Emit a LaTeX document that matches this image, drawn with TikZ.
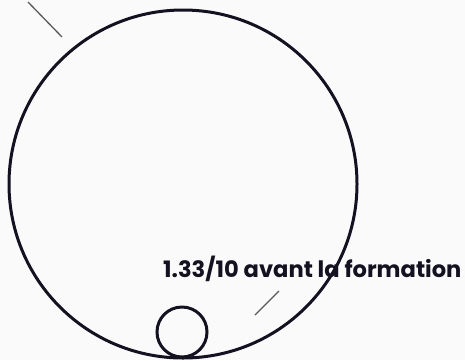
\documentclass[tikz,border=0pt]{standalone}
\usepackage{fontspec}
\setmainfont{Poppins}
\usepackage{tikz}
\usetikzlibrary{positioning}
\definecolor{inkblue}{RGB}{20,17,32}
\definecolor{tickgray}{RGB}{90,90,90}
\definecolor{paper}{RGB}{250,250,250}

\begin{document}
\begin{tikzpicture}[x=1pt, y=-1pt,
    ring/.style={draw=inkblue, line width=3pt, circle, inner sep=0pt},
    tick/.style={draw=tickgray, line width=1.3pt},
    score/.style={anchor=base west, inner sep=0pt, text=inkblue, font=\fontsize{22.6}{26}\selectfont\bfseries}
]
\fill[paper] (0,0) rectangle (465,360);
\useasboundingbox (0,0) rectangle (465,360);

% big and small rings
\node[ring, minimum size=348pt] (outer) at (183,184) {};
\node[ring, minimum size=50pt] (inner) at (182,332) {};

% label
\node[score] (label) at (163,277) {1.33/10 avant la formation};

% little ticks
\coordinate (ta) at (28,2);
\coordinate (tb) at (62,37);
\coordinate (tc) at (255,315);
\coordinate (td) at (279,291);
\draw[tick] (ta) -- (tb);
\draw[tick] (tc) -- (td);
\end{tikzpicture}
\end{document}
